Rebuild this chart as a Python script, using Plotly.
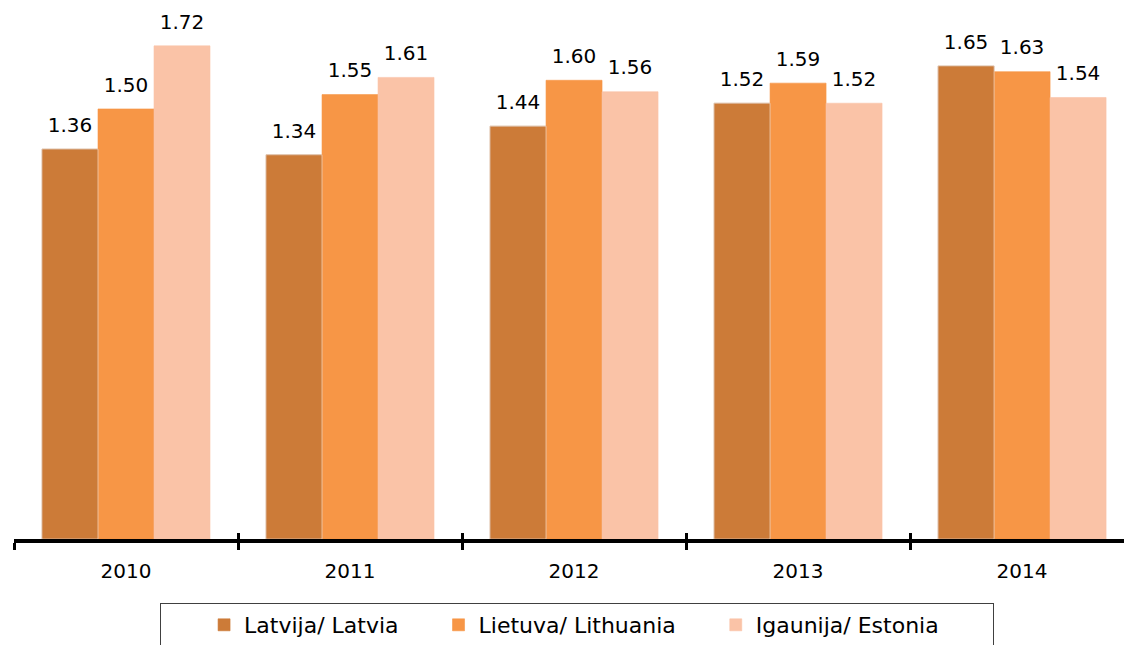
import plotly.graph_objects as go

years = ["2010", "2011", "2012", "2013", "2014"]
series_names = ["Latvija/ Latvia", "Lietuva/ Lithuania", "Igaunija/ Estonia"]
latvia = [1.36, 1.34, 1.44, 1.52, 1.65]
lithuania = [1.50, 1.55, 1.60, 1.59, 1.63]
estonia = [1.72, 1.61, 1.56, 1.52, 1.54]
colors = ["#CC7B38", "#F79646", "#FAC3A7"]

FONT = "DejaVu Sans"
NB = "\u00a0"
fig = go.Figure()
all_vals = [latvia, lithuania, estonia]
pads = [NB * 5, NB * 5, NB * 7]
for i, (name, vals, col, pad) in enumerate(zip(series_names, all_vals, colors, pads)):
    fig.add_trace(go.Bar(
        x=years, y=vals, name=name + pad, offsetgroup=str(i),
        marker=dict(color=col, line=dict(width=0.6, color=col)),
        hovertemplate=name + ": %{y:.2f}<extra></extra>"))

# value labels: grouped text points aligned with the bars
for i, vals in enumerate(all_vals):
    fig.add_trace(go.Scatter(
        x=years, y=vals, mode="markers+text", offsetgroup=str(i),
        text=[f"{v:.2f}" for v in vals], textposition="top center",
        textfont=dict(family=FONT, size=20, color="#000000"),
        marker=dict(size=18, opacity=0), cliponaxis=False,
        showlegend=False, hoverinfo="skip"))

# transparent copy on an overlaid axis that carries the upper half of the tick marks
fig.add_trace(go.Bar(x=years, y=latvia, xaxis="x2", marker=dict(color="rgba(0,0,0,0)"),
                     showlegend=False, hoverinfo="skip"))

xr = [-0.5, 4.455]
fig.update_layout(
    width=1124, height=645,
    margin=dict(l=14, r=0, t=0, b=106),
    plot_bgcolor="white", paper_bgcolor="white",
    barmode="group", bargap=0.25, bargroupgap=0,
    scattermode="group", scattergap=0.25,
    font=dict(family=FONT, size=20, color="#000000"),
    xaxis=dict(type="category", range=xr, showline=True, linewidth=4, linecolor="black",
               ticks="outside", ticklen=7, tickwidth=3, tickcolor="black", tickson="boundaries",
               ticklabelstandoff=11,
               showgrid=False, zeroline=False, tickfont=dict(family=FONT, size=20), fixedrange=True),
    xaxis2=dict(type="category", matches="x", overlaying="x", anchor="y", side="bottom",
                ticks="inside", ticklen=6, tickwidth=3, tickcolor="black", tickson="boundaries",
                showticklabels=False, showgrid=False, zeroline=False, showline=False),
    yaxis=dict(range=[0, 1.88], visible=False, showgrid=False, zeroline=False, fixedrange=True),
    legend=dict(orientation="h", xref="container", x=160 / 1124, xanchor="left",
                yref="container", y=1 - 603 / 645, yanchor="top",
                title=dict(text=NB * 4, side="left"),
                bordercolor="#404040", borderwidth=1, font=dict(family=FONT, size=22),
                itemclick=False, itemdoubleclick=False),
    showlegend=True,
)

fig.write_html("out.html", post_script="document.body.style.margin='0';",
               config={"displayModeBar": False})
